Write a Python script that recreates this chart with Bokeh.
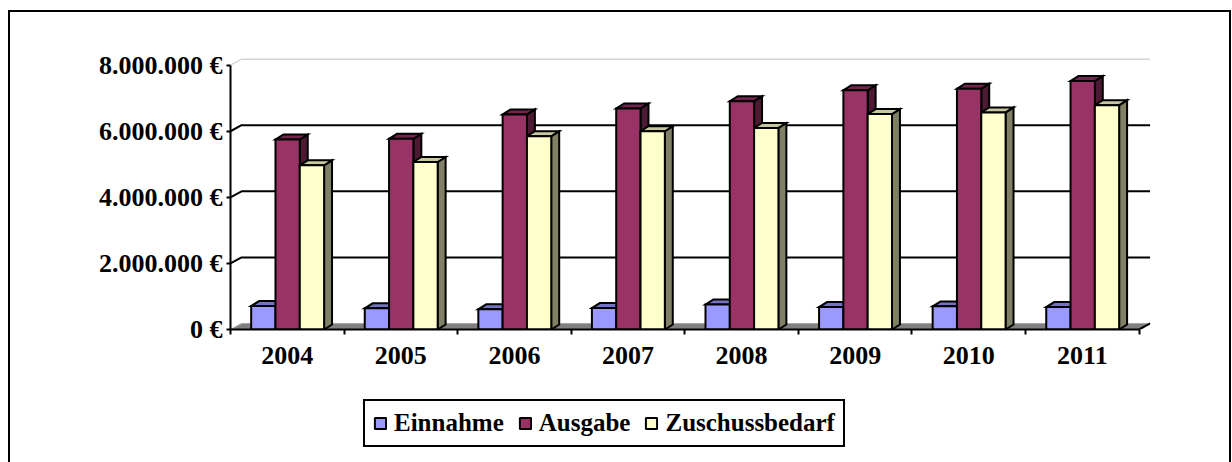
from bokeh.plotting import figure
from bokeh.layouts import column
from bokeh.models import (Range1d, FixedTicker, LinearAxis, Legend, LegendItem,
                          ColumnDataSource)
from bokeh.embed import file_html
from bokeh.resources import INLINE

# ---- data ----
years = ["2004", "2005", "2006", "2007", "2008", "2009", "2010", "2011"]
einnahme = [710000, 640000, 610000, 650000, 760000, 680000, 700000, 680000]
ausgabe = [5750000, 5770000, 6510000, 6690000, 6910000, 7240000, 7290000, 7520000]
zuschuss = [4970000, 5070000, 5850000, 6000000, 6100000, 6520000, 6570000, 6790000]
series_names = ["Einnahme", "Ausgabe", "Zuschussbedarf"]
y_ticks = [0, 2000000, 4000000, 6000000, 8000000]
y_tick_labels = ["0 €", "2.000.000 €", "4.000.000 €", "6.000.000 €", "8.000.000 €"]

# ---- styles ----
front_colors = ["#9999FF", "#993366", "#FFFFCC"]
top_colors = ["#7373BF", "#73264D", "#C8C8A0"]
side_colors = ["#4D4D80", "#4D1A33", "#808066"]
FONT = "Liberation Serif"

n = len(years)
series = [einnahme, ausgabe, zuschuss]
bar_w = 0.214
bar_off = 0.182
bdx, bdy = 0.070, 151000      # bar depth offset
wdx, wdy = 0.097, 182000      # wall depth offset
y_max = y_ticks[-1]

p = figure(width=1219, height=383, x_range=Range1d(0, 8.1), y_range=Range1d(0, 8232000),
           output_backend="svg", toolbar_location=None,
           min_border_left=220, min_border_right=79, min_border_top=45, min_border_bottom=66,
           x_axis_type=None, y_axis_type=None)
p.outline_line_color = None
p.background_fill_color = "white"
p.border_fill_color = "white"

# floor
p.patch([0, n, n + wdx, wdx], [0, 0, wdy, wdy], fill_color="#808080",
        line_color="#A8A8A8", line_width=1)
p.line([n, n + wdx], [0, wdy], line_color="black", line_width=2)

# gridlines on back wall (with left-wall diagonal)
gx, gy = [], []
for v in y_ticks[1:-1]:
    gx.append([0, wdx, n + wdx])
    gy.append([v, v + wdy, v + wdy])
p.multi_line(gx, gy, line_color="black", line_width=2)
p.line([0, wdx, n + wdx], [y_max, y_max + wdy, y_max + wdy], line_color="#C0C0C0", line_width=1)

# 3D faces: sides and tops, left to right
fx, fy, fc = [], [], []
for i in range(n):
    for s in range(3):
        v = series[s][i]
        l = i + bar_off + s * bar_w
        r = l + bar_w
        fx.append([r, r, r + bdx, r + bdx]); fy.append([0, v, v + bdy, bdy]); fc.append(side_colors[s])
        fx.append([l, r, r + bdx, l + bdx]); fy.append([v, v, v + bdy, v + bdy]); fc.append(top_colors[s])
p.patches(source=ColumnDataSource(dict(xs=fx, ys=fy, c=fc)), xs="xs", ys="ys",
          fill_color="c", line_color="black", line_width=2, line_join="miter")

# front faces
for s in range(3):
    left = [i + bar_off + s * bar_w for i in range(n)]
    right = [x + bar_w for x in left]
    p.quad(left=left, right=right, bottom=0, top=series[s], fill_color=front_colors[s],
           line_color="black", line_width=2, line_join="miter")

# axes
yaxis = LinearAxis(ticker=FixedTicker(ticks=y_ticks),
                   major_label_overrides=dict(zip(y_ticks, y_tick_labels)),
                   bounds=(0, y_max), axis_line_width=2, axis_line_color="black",
                   major_tick_line_width=2, major_tick_out=4, major_tick_in=0,
                   minor_tick_out=0, minor_tick_in=0, major_label_standoff=4,
                   major_label_text_font=FONT, major_label_text_font_style="bold",
                   major_label_text_font_size="26px", major_label_text_color="black")
p.add_layout(yaxis, "left")

centers = [i + 0.5 for i in range(n)]
xaxis = LinearAxis(ticker=FixedTicker(ticks=centers, minor_ticks=list(range(n + 1))),
                   major_label_overrides=dict(zip(centers, years)),
                   bounds=(0, n), axis_line_width=2, axis_line_color="black",
                   major_tick_out=0, major_tick_in=0, minor_tick_out=5, minor_tick_in=0,
                   minor_tick_line_width=2, minor_tick_line_color="black",
                   major_label_standoff=12,
                   major_label_text_font=FONT, major_label_text_font_style="bold",
                   major_label_text_font_size="26px", major_label_text_color="black")
p.add_layout(xaxis, "below")

# ---- legend strip ----
lf = figure(width=1219, height=67, x_range=Range1d(0, 1), y_range=Range1d(0, 1),
            output_backend="svg", toolbar_location=None,
            min_border_left=220, min_border_right=79, min_border_top=0, min_border_bottom=0,
            x_axis_type=None, y_axis_type=None)
lf.outline_line_color = None
lf.border_fill_color = "white"
lf.background_fill_color = "white"
# legend swatches (kept outside the visible range of this strip)
leg_renderers = [lf.quad(left=[2], right=[3], bottom=[2], top=[3], fill_color=c,
                         line_color="black", line_width=2) for c in front_colors]
legend = Legend(items=[LegendItem(label=nm, renderers=[r]) for nm, r in zip(series_names, leg_renderers)],
                orientation="horizontal", location=(133, 15),
                border_line_color="black", border_line_width=2, border_line_alpha=1,
                background_fill_color="white", background_fill_alpha=1,
                padding=8, spacing=14, label_standoff=7, glyph_width=14, glyph_height=14,
                label_text_font=FONT, label_text_font_style="bold", label_text_font_size="25px",
                label_text_color="black", margin=0)
lf.add_layout(legend)

border_css = ("0 -2px 0 0 black, -2px 0 0 0 black, 2px 0 0 0 black, "
              "-2px -2px 0 0 black, 2px -2px 0 0 black")
layout = column(p, lf, spacing=0, margin=(12, 0, 0, 10), styles={"box-shadow": border_css})

open("out.html", "w").write(file_html(layout, INLINE))
